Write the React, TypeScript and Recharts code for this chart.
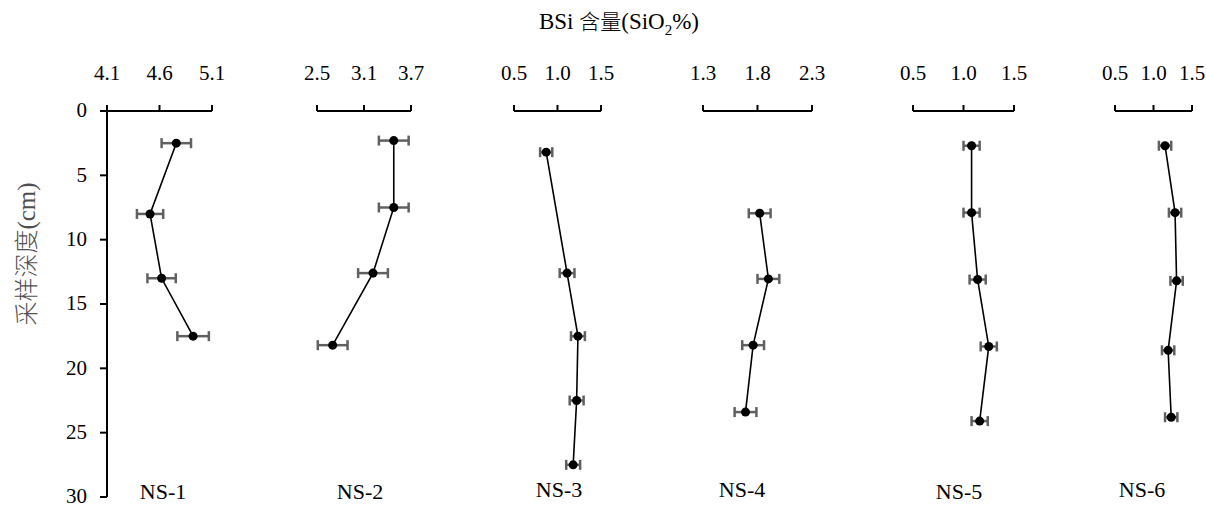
import React from 'react';
import { ScatterChart, Scatter, XAxis, YAxis, ZAxis, ErrorBar } from 'recharts';

// Sample sites
const sites = ['NS-1', 'NS-2', 'NS-3', 'NS-4', 'NS-5', 'NS-6'];

// Sampling depth (cm) per site
const depth1 = [2.5, 8, 13, 17.5];
const depth2 = [2.3, 7.5, 12.6, 18.2];
const depth3 = [3.2, 12.6, 17.5, 22.5, 27.5];
const depth4 = [7.95, 13.05, 18.2, 23.4];
const depth5 = [2.7, 7.9, 13.1, 18.3, 24.1];
const depth6 = [2.7, 7.9, 13.2, 18.6, 23.8];

// BSi content (SiO2 %)
const bsi1 = [4.76, 4.51, 4.62, 4.92];
const bsi2 = [3.48, 3.48, 3.215, 2.7];
const bsi3 = [0.87, 1.11, 1.235, 1.22, 1.18];
const bsi4 = [1.82, 1.9, 1.76, 1.69];
const bsi5 = [1.08, 1.08, 1.14, 1.25, 1.16];
const bsi6 = [1.15, 1.28, 1.3, 1.19, 1.23];

// Error (±)
const err1 = [0.14, 0.125, 0.135, 0.15];
const err2 = [0.19, 0.19, 0.19, 0.19];
const err3 = [0.07, 0.085, 0.08, 0.08, 0.08];
const err4 = [0.1, 0.1, 0.1, 0.1];
const err5 = [0.08, 0.08, 0.08, 0.08, 0.08];
const err6 = [0.08, 0.08, 0.08, 0.08, 0.08];

// Top-axis ticks per panel
const ticks1 = [4.1, 4.6, 5.1];
const ticks2 = [2.5, 3.1, 3.7];
const ticks3 = [0.5, 1.0, 1.5];
const ticks4 = [1.3, 1.8, 2.3];
const ticks5 = [0.5, 1.0, 1.5];
const ticks6 = [0.5, 1.0, 1.5];

const depthTicks = [0, 5, 10, 15, 20, 25, 30];

const SERIF = 'Liberation Serif';
const CJK = 'Noto Sans CJK SC';

const panels = [
  { depth: depth1, bsi: bsi1, err: err1, ticks: ticks1, x0: 107, x1: 212, labelX: 163, labelY: 492 },
  { depth: depth2, bsi: bsi2, err: err2, ticks: ticks2, x0: 317, x1: 411, labelX: 360, labelY: 492 },
  { depth: depth3, bsi: bsi3, err: err3, ticks: ticks3, x0: 514, x1: 601, labelX: 559, labelY: 490 },
  { depth: depth4, bsi: bsi4, err: err4, ticks: ticks4, x0: 703, x1: 812, labelX: 742, labelY: 490 },
  { depth: depth5, bsi: bsi5, err: err5, ticks: ticks5, x0: 913, x1: 1014, labelX: 959, labelY: 492 },
  { depth: depth6, bsi: bsi6, err: err6, ticks: ticks6, x0: 1115, x1: 1192, labelX: 1142, labelY: 490 },
];

const TOP = 40;
const AXIS_H = 71;
const PLOT_H = 386;
const SIDE = 14;
const Y_W = 60;

function Panel({ idx }: { idx: number }) {
  const p = panels[idx];
  const data = p.depth.map((d, i) => ({ d, v: p.bsi[i], e: p.err[i] }));
  const showY = idx === 0;
  const leftPad = SIDE + (showY ? Y_W : 0);
  const width = p.x1 - p.x0 + leftPad + SIDE;
  return (
    <div style={{ position: 'absolute', left: p.x0 - leftPad, top: TOP }}>
      <ScatterChart
        width={width}
        height={AXIS_H + PLOT_H + 12}
        margin={{ top: 0, right: SIDE, bottom: 12, left: SIDE }}
        style={{ overflow: 'visible' }}
      >
        <XAxis
          type="number"
          dataKey="v"
          orientation="top"
          domain={[p.ticks[0], p.ticks[p.ticks.length - 1]]}
          ticks={p.ticks}
          tickFormatter={(v: number) => v.toFixed(1)}
          height={AXIS_H}
          tickSize={6}
          tickMargin={25}
          allowDataOverflow
          interval={0}
          axisLine={{ stroke: '#000', strokeWidth: 2 }}
          tickLine={{ stroke: '#000', strokeWidth: 2 }}
          tick={{ fill: '#000', fontSize: 21, fontFamily: SERIF }}
        />
        <YAxis
          type="number"
          dataKey="d"
          reversed
          domain={[0, 30]}
          ticks={depthTicks}
          hide={!showY}
          width={Y_W}
          tickSize={7}
          tickMargin={13}
          interval={0}
          axisLine={{ stroke: '#000', strokeWidth: 2 }}
          tickLine={{ stroke: '#000', strokeWidth: 2 }}
          tick={{ fill: '#000', fontSize: 21, fontFamily: SERIF, dy: -1 }}
        />
        <ZAxis range={[64, 64]} />
        <Scatter
          data={data}
          fill="#000"
          line={{ stroke: '#000', strokeWidth: 1.6 }}
          lineType="joint"
          isAnimationActive={false}
        >
          <ErrorBar dataKey="e" direction="x" width={5} stroke="#606060" strokeWidth={2.5} />
        </Scatter>
      </ScatterChart>
      <div
        style={{
          position: 'absolute',
          left: p.labelX - (p.x0 - leftPad),
          top: p.labelY - TOP,
          transform: 'translate(-50%, -50%)',
          fontFamily: SERIF,
          fontSize: 22,
          color: '#000',
          whiteSpace: 'nowrap',
        }}
      >
        {sites[idx]}
      </div>
    </div>
  );
}

export default function App() {
  return (
    <div
      style={{
        position: 'absolute',
        left: 0,
        top: 0,
        width: 1206,
        height: 505,
        background: '#fff',
        overflow: 'hidden',
        fontFamily: SERIF,
      }}
    >
      <div
        style={{
          position: 'absolute',
          left: 619,
          top: 22,
          transform: 'translate(-50%, -50%)',
          fontSize: 23,
          whiteSpace: 'nowrap',
          color: '#000',
          fontFamily: SERIF,
        }}
      >
        BSi <span style={{ fontFamily: CJK, fontWeight: 300, fontSize: 21 }}>含量</span>(SiO
        <sub style={{ fontSize: 15 }}>2</sub>%)
      </div>
      <div
        style={{
          position: 'absolute',
          left: 24,
          top: 254,
          transform: 'translate(-50%, -50%) rotate(-90deg)',
          fontSize: 25,
          whiteSpace: 'nowrap',
          color: '#505050',
          fontFamily: SERIF,
        }}
      >
        <span style={{ fontFamily: CJK, fontWeight: 300, fontSize: 24 }}>采样深度</span>(cm)
      </div>
      {panels.map((_, i) => (
        <Panel key={i} idx={i} />
      ))}
    </div>
  );
}
